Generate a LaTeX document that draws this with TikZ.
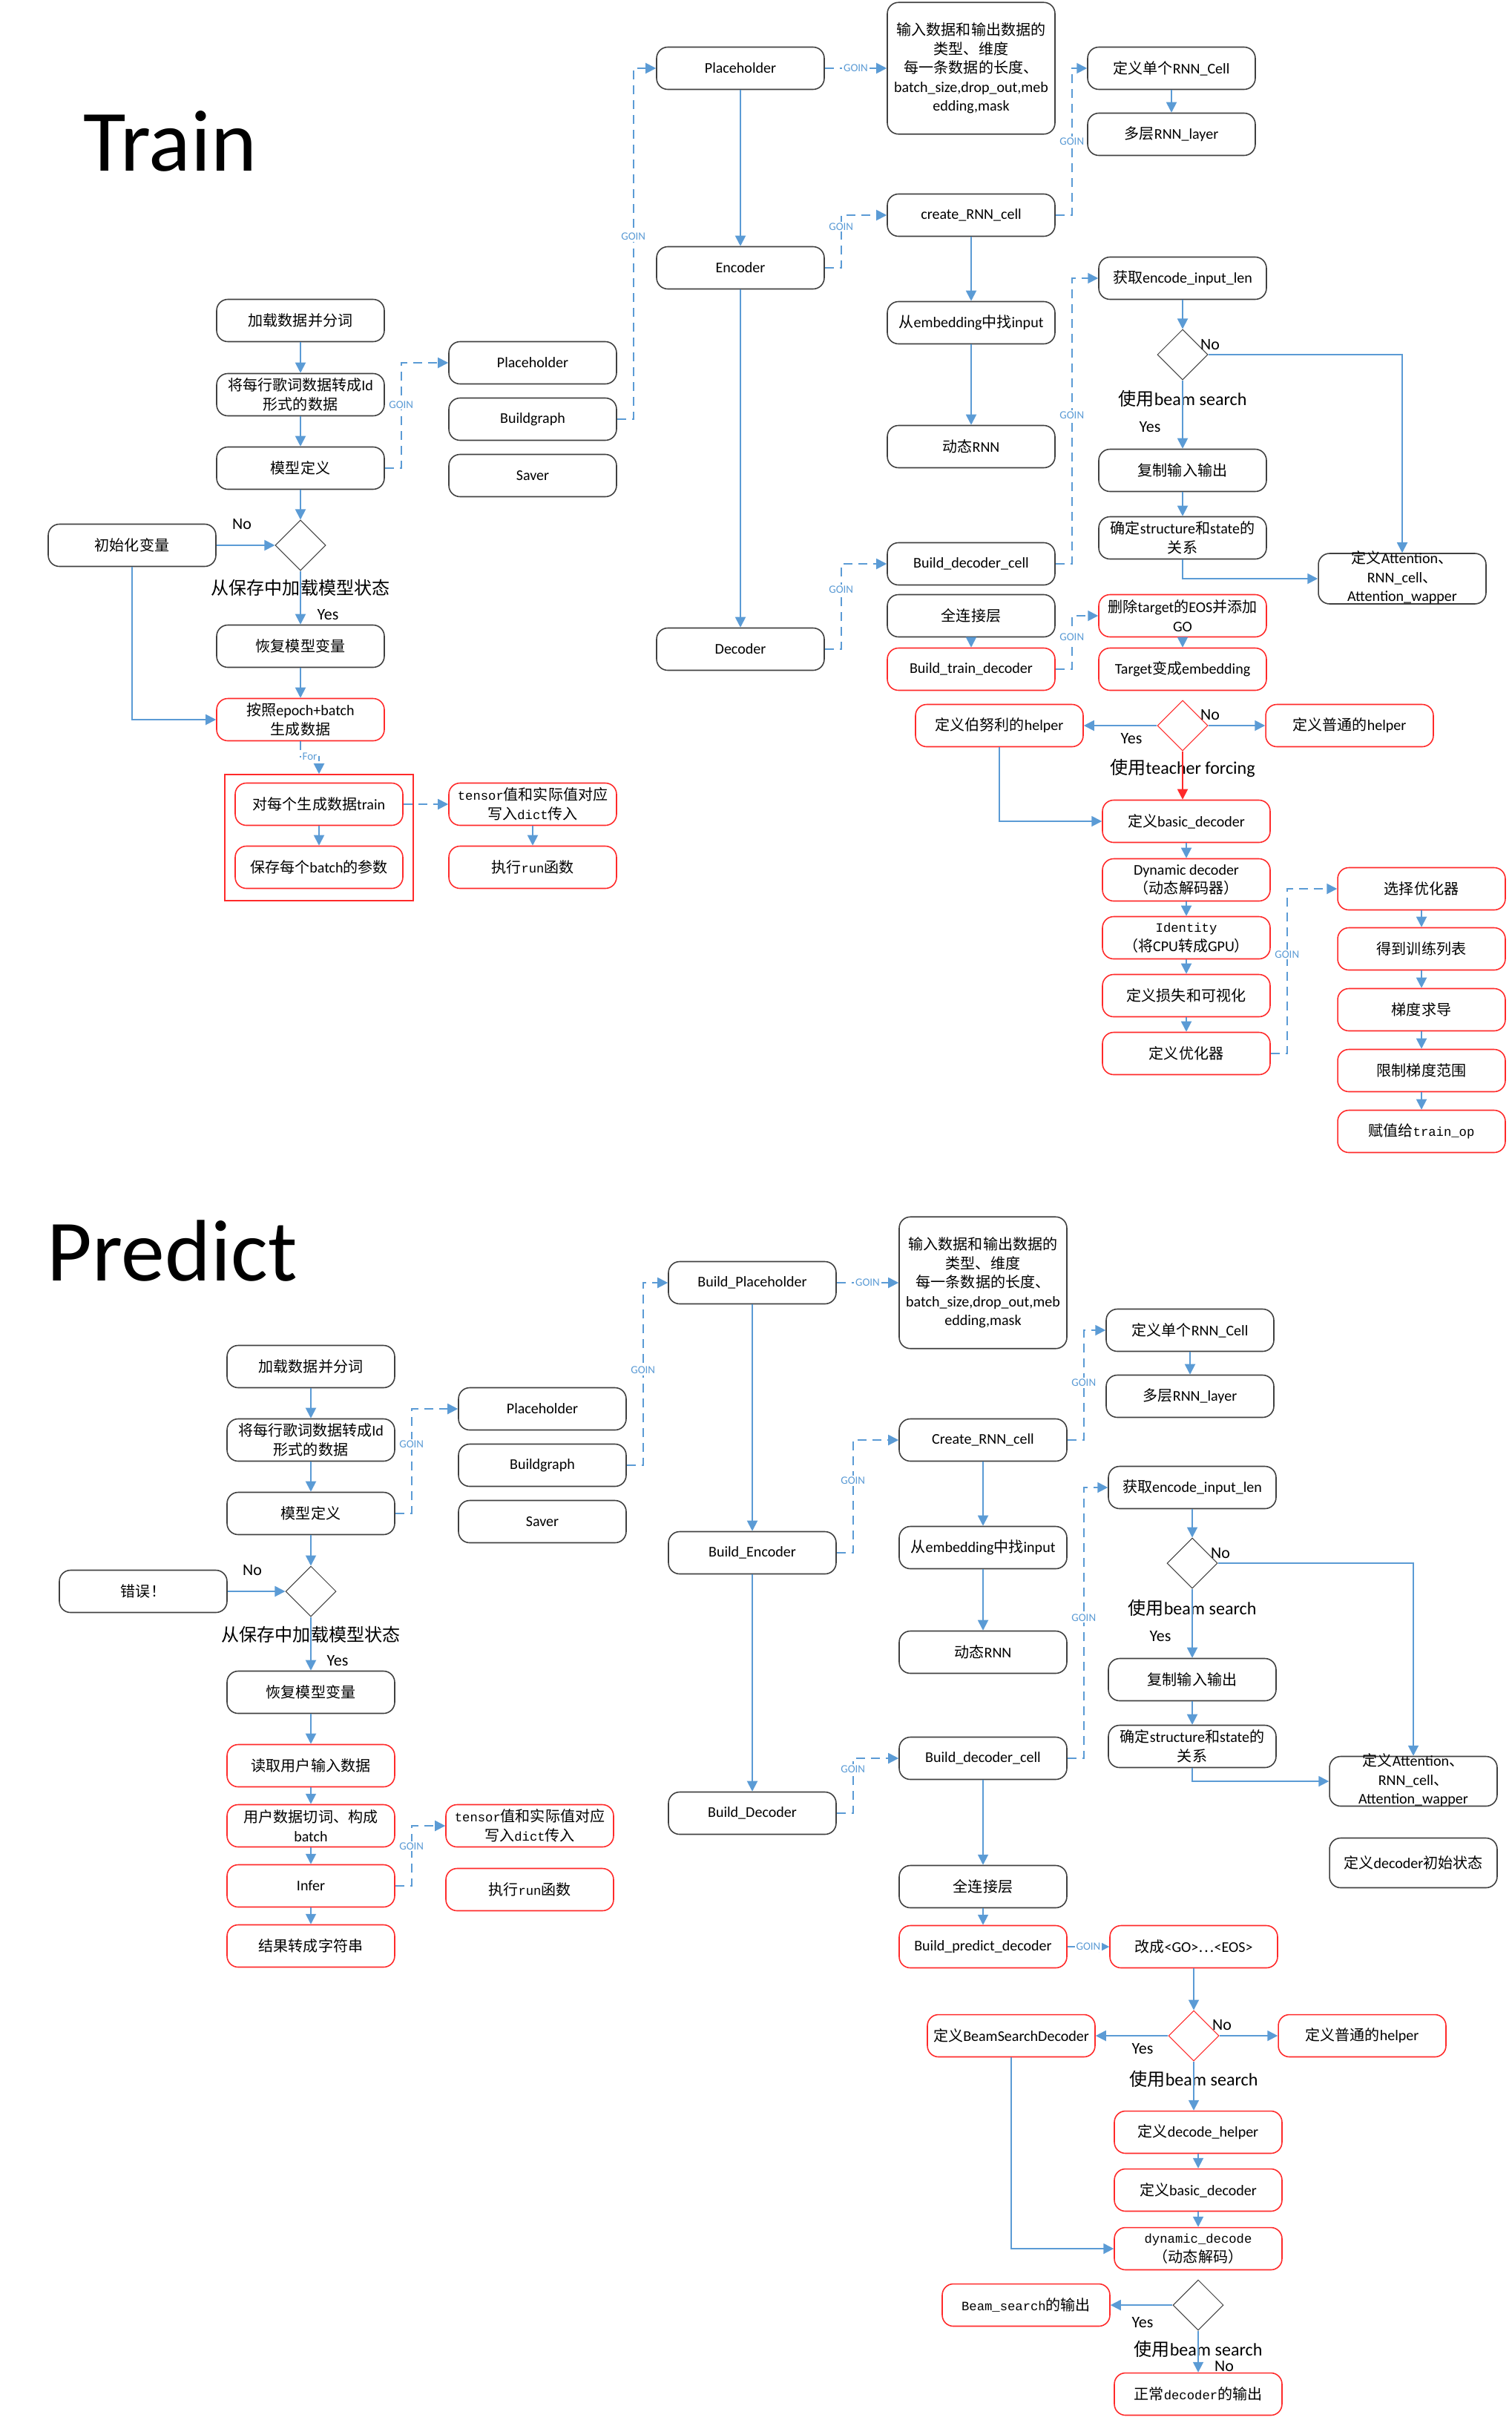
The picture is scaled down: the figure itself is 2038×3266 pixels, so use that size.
\documentclass[tikz,border=0pt]{standalone}
\usepackage{fontspec}
\setmainfont{Carlito}
\setmonofont{Liberation Mono}[Scale=0.86]
\newfontfamily\cjk{Noto Sans CJK SC}
\usepackage{tikz}
\usetikzlibrary{shapes.geometric,arrows.meta,positioning,calc}

\XeTeXinterchartokenstate=1
\newXeTeXintercharclass\hanclass
\count255="3000
\loop
  \XeTeXcharclass\count255=\hanclass
  \advance\count255 by 1
\ifnum\count255<"A000 \repeat
\count255="FF00
\loop
  \XeTeXcharclass\count255=\hanclass
  \advance\count255 by 1
\ifnum\count255<"FFF0 \repeat
\XeTeXcharclass"2026=\hanclass
\XeTeXinterchartoks 0 \hanclass={\begingroup\cjk}
\XeTeXinterchartoks 4095 \hanclass={\begingroup\cjk}
\XeTeXinterchartoks \hanclass 0={\endgroup}
\XeTeXinterchartoks \hanclass 4095={\endgroup}

\definecolor{lineblue}{HTML}{5B9BD5}
\definecolor{boxred}{HTML}{FF2A2A}
\definecolor{boxgray}{HTML}{404040}

\newcommand\boxtxt{\fontsize{11.4}{14.5}\selectfont}
\newcommand\condtxt{\fontsize{13.7}{16}\selectfont}
\newcommand\yntxt{\fontsize{12.5}{15}\selectfont}
\newcommand\goinsize{\fontsize{8.5}{10}\selectfont}
\newcommand\headtxt{\fontsize{67}{80}\selectfont}

\begin{document}
\begin{tikzpicture}[x=0.02cm, y=-0.02cm,
    >={Triangle[length=0.28cm,width=0.28cm]},
    box/.style={draw=boxgray, line width=0.9pt, rounded corners=0.3cm, fill=white, minimum width=4.52cm, minimum height=1.14cm, inner sep=1pt, align=center, font=\boxtxt},
    redbox/.style={box, draw=boxred},
    tallbox/.style={box, minimum height=3.55cm},
    dia/.style={diamond, draw=boxgray, line width=0.6pt, fill=white, minimum width=1.36cm, minimum height=1.36cm, inner sep=0pt},
    reddia/.style={dia, draw=boxred},
    flow/.style={->, draw=lineblue, line width=1.1pt},
    goin/.style={->, draw=lineblue, line width=1.1pt, dash pattern=on 0.24cm off 0.16cm},
    goinlbl/.style={font=\goinsize, text=lineblue, fill=white, inner sep=1pt},
    yn/.style={font=\yntxt, inner sep=0pt},
    cond/.style={font=\condtxt, inner sep=0pt},
    headline/.style={font=\headtxt, inner sep=0pt, anchor=base}]
    \useasboundingbox (0,0) rectangle (2038,3266);

    \node[headline] (ttitle) at (229,230) {Train};

    \node[box] (tload) at (405,432) {加载数据并分词};
    \node[box] (tconv) at (405,532) {将每行歌词数据转成Id\\形式的数据};
    \node[box] (tmodel) at (405,631) {模型定义};
    \node[dia] (tcheck) at (405,735) {};
    \node[box] (tinit) at (178,735) {初始化变量};
    \node[yn] (tno) at (326,707) {No};
    \node[cond] (tcond) at (405,792) {从保存中加载模型状态};
    \node[yn] (tyes) at (442,829) {Yes};
    \node[box] (trestore) at (405,871) {恢复模型变量};
    \node[redbox] (tbatch) at (405,970) {按照epoch+batch\\生成数据};
    \node[draw=boxred, line width=0.9pt, minimum width=5.08cm, minimum height=3.4cm] (tloop) at (430,1129) {};
    \node[redbox] (tstep) at (430,1084) {对每个生成数据train};
    \node[redbox] (tsave) at (430,1169) {保存每个batch的参数};
    \node[redbox, font=\boxtxt\ttfamily] (tfeed) at (718,1084) {tensor值和实际值对应\\写入dict传入};
    \node[redbox, font=\boxtxt\ttfamily] (trun) at (718,1169) {执行run函数};
    \node[box] (tph) at (718,489) {Placeholder};
    \node[box] (tbuild) at (718,565) {Buildgraph};
    \node[box] (tsaver) at (718,641) {Saver};

    \node[box] (tplace) at (998,92) {Placeholder};
    \node[box] (tenc) at (998,361) {Encoder};
    \node[box] (tdec) at (998,875) {Decoder};
    \node[tallbox] (tinfo) at (1309,92) {输入数据和输出数据的\\类型、维度\\每一条数据的长度、\\batch\_size,drop\_out,meb\\edding,mask};
    \node[box] (tcreate) at (1309,290) {create\_RNN\_cell};
    \node[box] (temb) at (1309,435) {从embedding中找input};
    \node[box] (tdyn) at (1309,602) {动态RNN};
    \node[box] (tcell) at (1579,92) {定义单个RNN\_Cell};
    \node[box] (tlayer) at (1579,181) {多层RNN\_layer};
    \node[box] (tdcell) at (1309,760) {Build\_decoder\_cell};
    \node[box] (tfc) at (1309,830) {全连接层};
    \node[redbox] (ttrain) at (1309,902) {Build\_train\_decoder};

    \node[box] (tlen) at (1594,375) {获取encode\_input\_len};
    \node[dia] (tbeam) at (1594,478) {};
    \node[yn] (tbno) at (1631,465) {No};
    \node[cond] (tbcond) at (1594,537) {使用beam search};
    \node[yn] (tbyes) at (1550,576) {Yes};
    \node[box] (tcopy) at (1594,634) {复制输入输出};
    \node[box] (trel) at (1594,725) {确定structure和state的\\关系};
    \node[box, minimum height=1.36cm] (tattn) at (1890,780) {\smash{\raisebox{-2.8pt}{\begin{tabular}{@{}c@{}}定义Attention、\\RNN\_cell、\\Attention\_wapper\end{tabular}}}};
    \node[redbox] (teos) at (1594,830) {删除target的EOS并添加\\GO};
    \node[redbox] (ttemb) at (1594,902) {Target变成embedding};
    \node[reddia] (tforce) at (1594,978) {};
    \node[redbox] (tbern) at (1347,978) {定义伯努利的helper};
    \node[redbox] (tnorm) at (1819,978) {定义普通的helper};
    \node[yn] (tfyes) at (1525,996) {Yes};
    \node[yn] (tfno) at (1631,964) {No};
    \node[cond] (tfcond) at (1594,1035) {使用teacher forcing};
    \node[redbox] (tbasic) at (1599,1107) {定义basic\_decoder};
    \node[redbox] (tdynd) at (1599,1186) {Dynamic decoder\\（动态解码器）};
    \node[redbox] (tident) at (1599,1264) {\texttt{Identity}\\（将CPU转成GPU）};
    \node[redbox] (tloss) at (1599,1342) {定义损失和可视化};
    \node[redbox] (topt) at (1599,1420) {定义优化器};
    \node[redbox] (tsel) at (1916,1198) {选择优化器};
    \node[redbox] (tlist) at (1916,1279) {得到训练列表};
    \node[redbox] (tgrad) at (1916,1361) {梯度求导};
    \node[redbox] (tclip) at (1916,1443) {限制梯度范围};
    \node[redbox] (ttrainop) at (1916,1525) {赋值给\texttt{train\_op}};

    \draw[flow] (tload) -- (tconv);
    \draw[flow] (tconv) -- (tmodel);
    \draw[flow] (tmodel) -- (tcheck);
    \draw[flow] (tcheck) -- (trestore);
    \draw[flow] (tinit) -- (tcheck);
    \draw[flow] (tinit) |- (tbatch);
    \draw[flow] (trestore) -- (tbatch);
    \draw[goin] (tbatch) -- ++(0,50) -| node[goinlbl, pos=0.25] (tfor) {For} (tloop);
    \draw[flow] (tstep) -- (tsave);
    \draw[goin] (tstep) -- (tfeed);
    \draw[flow] (tfeed) -- (trun);
    \draw[goin] (tmodel.east) -- ++(22,0) |- node[goinlbl, pos=0.3] (tg1) {GOIN} (tph.west);
    \draw[goin] (tbuild.east) -- ++(22,0) |- node[goinlbl, pos=0.26] (tg2) {GOIN} (tplace.west);
    \draw[flow] (tplace) -- (tenc);
    \draw[flow] (tenc) -- (tdec);
    \draw[goin] (tplace) -- node[goinlbl] (tg3) {GOIN} (tinfo);
    \draw[goin] (tenc.east) -- ++(22,0) |- node[goinlbl, pos=0.39] (tg4) {GOIN} (tcreate.west);
    \draw[flow] (tcreate) -- (temb);
    \draw[flow] (temb) -- (tdyn);
    \draw[goin] (tcreate.east) -- ++(22,0) |- node[goinlbl, pos=0.25] (tg5) {GOIN} (tcell.west);
    \draw[flow] (tcell) -- (tlayer);
    \draw[goin] (tdec.east) -- ++(22,0) |- node[goinlbl, pos=0.35] (tg6) {GOIN} (tdcell.west);
    \draw[goin] (tdcell.east) -- ++(22,0) |- node[goinlbl, pos=0.26] (tg7) {GOIN} (tlen.west);
    \draw[flow] (tfc) -- (ttrain);
    \draw[goin] (ttrain.east) -- ++(22,0) |- node[goinlbl, pos=0.3] (tg8) {GOIN} (teos.west);
    \draw[flow] (tlen) -- (tbeam);
    \draw[flow] (tbeam) -- (tcopy);
    \draw[flow] (tcopy) -- (trel);
    \draw[flow] (tbeam.east) -| (tattn.north);
    \draw[flow] (trel.south) |- (tattn.west);
    \draw[flow] (teos) -- (ttemb);
    \draw[flow] (tforce) -- (tbern);
    \draw[flow] (tforce) -- (tnorm);
    \draw[flow, draw=boxred] (tforce.south) -- (tforce.south |- tbasic.north);
    \draw[flow] (tbern.south) |- (tbasic.west);
    \draw[flow] (tbasic) -- (tdynd);
    \draw[flow] (tdynd) -- (tident);
    \draw[flow] (tident) -- (tloss);
    \draw[flow] (tloss) -- (topt);
    \draw[goin] (topt.east) -- ++(22,0) |- node[goinlbl, pos=0.3] (tg9) {GOIN} (tsel.west);
    \draw[flow] (tsel) -- (tlist);
    \draw[flow] (tlist) -- (tgrad);
    \draw[flow] (tgrad) -- (tclip);
    \draw[flow] (tclip) -- (ttrainop);

    \node[headline] (ptitle) at (232,1726) {Predict};

    \node[box] (pload) at (419,1842) {加载数据并分词};
    \node[box] (pconv) at (419,1941) {将每行歌词数据转成Id\\形式的数据};
    \node[box] (pmodel) at (419,2040) {模型定义};
    \node[dia] (pcheck) at (419,2145) {};
    \node[box] (perr) at (193,2145) {错误！};
    \node[yn] (pno) at (340,2117) {No};
    \node[cond] (pcond) at (419,2203) {从保存中加载模型状态};
    \node[yn] (pyes) at (455,2239) {Yes};
    \node[box] (prestore) at (419,2281) {恢复模型变量};
    \node[redbox] (pread) at (419,2380) {读取用户输入数据};
    \node[redbox] (pcut) at (419,2461) {用户数据切词、构成\\batch};
    \node[redbox] (pinfer) at (419,2542) {Infer};
    \node[redbox] (pstr) at (419,2623) {结果转成字符串};
    \node[box] (pph) at (731,1899) {Placeholder};
    \node[box] (pbuild) at (731,1975) {Buildgraph};
    \node[box] (psaver) at (731,2051) {Saver};
    \node[redbox, font=\boxtxt\ttfamily] (pfeed) at (714,2461) {tensor值和实际值对应\\写入dict传入};
    \node[redbox, font=\boxtxt\ttfamily] (prun) at (714,2547) {执行run函数};

    \node[box] (pplace) at (1014,1729) {Build\_Placeholder};
    \node[box] (penc) at (1014,2093) {Build\_Encoder};
    \node[box] (pdec) at (1014,2444) {Build\_Decoder};
    \node[tallbox] (pinfo) at (1325,1729) {输入数据和输出数据的\\类型、维度\\每一条数据的长度、\\batch\_size,drop\_out,meb\\edding,mask};
    \node[box] (pcreate) at (1325,1941) {Create\_RNN\_cell};
    \node[box] (pemb) at (1325,2086) {从embedding中找input};
    \node[box] (pdyn) at (1325,2227) {动态RNN};
    \node[box] (pcell) at (1604,1793) {定义单个RNN\_Cell};
    \node[box] (player) at (1604,1882) {多层RNN\_layer};
    \node[box] (pdcell) at (1325,2370) {Build\_decoder\_cell};
    \node[box] (pfc) at (1325,2543) {全连接层};
    \node[redbox] (ppred) at (1325,2624) {Build\_predict\_decoder};

    \node[box] (plen) at (1607,2005) {获取encode\_input\_len};
    \node[dia] (pbeam) at (1607,2107) {};
    \node[yn] (pbno) at (1645,2094) {No};
    \node[cond] (pbcond) at (1607,2167) {使用beam search};
    \node[yn] (pbyes) at (1564,2206) {Yes};
    \node[box] (pcopy) at (1607,2264) {复制输入输出};
    \node[box] (prel) at (1607,2354) {确定structure和state的\\关系};
    \node[box, minimum height=1.34cm] (pattn) at (1905,2401) {\smash{\raisebox{-2.8pt}{\begin{tabular}{@{}c@{}}定义Attention、\\RNN\_cell、\\Attention\_wapper\end{tabular}}}};
    \node[box, minimum height=1.34cm] (pinit) at (1905,2511) {定义decoder初始状态};

    \node[redbox] (pgo) at (1609,2624) {改成<GO>…<EOS>};
    \node[reddia] (pswitch) at (1609,2744) {};
    \node[redbox] (pbsd) at (1363,2744) {定义BeamSearchDecoder};
    \node[redbox] (pnorm) at (1836,2744) {定义普通的helper};
    \node[yn] (psno) at (1647,2729) {No};
    \node[yn] (psyes) at (1540,2761) {Yes};
    \node[cond] (pscond) at (1609,2802) {使用beam search};
    \node[redbox] (phelper) at (1615,2874) {定义decode\_helper};
    \node[redbox] (pbasic) at (1615,2952) {定义basic\_decoder};
    \node[redbox] (pdynd) at (1615,3031) {\texttt{dynamic\_decode}\\（动态解码）};
    \node[dia] (pwhich) at (1615,3107) {};
    \node[redbox, font=\boxtxt\ttfamily] (pbso) at (1383,3107) {Beam\_search的输出};
    \node[yn] (pwyes) at (1540,3130) {Yes};
    \node[cond] (pwcond) at (1615,3166) {使用beam search};
    \node[yn] (pwno) at (1650,3189) {No};
    \node[redbox, font=\boxtxt\ttfamily] (pout) at (1615,3227) {正常decoder的输出};

    \draw[flow] (pload) -- (pconv);
    \draw[flow] (pconv) -- (pmodel);
    \draw[flow] (pmodel) -- (pcheck);
    \draw[flow] (pcheck) -- (prestore);
    \draw[flow] (perr) -- (pcheck);
    \draw[flow] (prestore) -- (pread);
    \draw[flow] (pread) -- (pcut);
    \draw[flow] (pcut) -- (pinfer);
    \draw[flow] (pinfer) -- (pstr);
    \draw[goin] (pmodel.east) -- ++(22,0) |- node[goinlbl, pos=0.33] (pg1) {GOIN} (pph.west);
    \draw[goin] (pbuild.east) -- ++(22,0) |- node[goinlbl, pos=0.26] (pg2) {GOIN} (pplace.west);
    \draw[goin] (pinfer.east) -- ++(22,0) |- node[goinlbl, pos=0.33] (pg3) {GOIN} (pfeed.west);
    \draw[goin] (pplace) -- node[goinlbl] (pg4) {GOIN} (pinfo);
    \draw[flow] (pplace) -- (penc);
    \draw[flow] (penc) -- (pdec);
    \draw[goin] (penc.east) -- ++(22,0) |- node[goinlbl, pos=0.32] (pg5) {GOIN} (pcreate.west);
    \draw[flow] (pcreate) -- (pemb);
    \draw[flow] (pemb) -- (pdyn);
    \draw[goin] (pcreate.east) -- ++(22,0) |- node[goinlbl, pos=0.26] (pg6) {GOIN} (pcell.west);
    \draw[flow] (pcell) -- (player);
    \draw[goin] (pdcell.east) -- ++(22,0) |- node[goinlbl, pos=0.26] (pg7) {GOIN} (plen.west);
    \draw[goin] (pdec.east) -- ++(22,0) |- node[goinlbl, pos=0.4] (pg8) {GOIN} (pdcell.west);
    \draw[flow] (plen) -- (pbeam);
    \draw[flow] (pbeam) -- (pcopy);
    \draw[flow] (pcopy) -- (prel);
    \draw[flow] (pbeam.east) -| (pattn.north);
    \draw[flow] (prel.south) |- (pattn.west);
    \draw[flow] (pdcell) -- (pfc);
    \draw[flow] (pfc) -- (ppred);
    \draw[goin] (ppred) -- node[goinlbl] (pg9) {GOIN} (pgo);
    \draw[flow] (pgo) -- (pswitch);
    \draw[flow] (pswitch) -- (pbsd);
    \draw[flow] (pswitch) -- (pnorm);
    \draw[flow] (pswitch.south) -- (pswitch.south |- phelper.north);
    \draw[flow] (phelper) -- (pbasic);
    \draw[flow] (pbasic) -- (pdynd);
    \draw[flow] (pbsd.south) |- (pdynd.west);
    \draw[flow] (pwhich) -- (pbso);
    \draw[flow] (pwhich) -- (pout);
\end{tikzpicture}
\end{document}
